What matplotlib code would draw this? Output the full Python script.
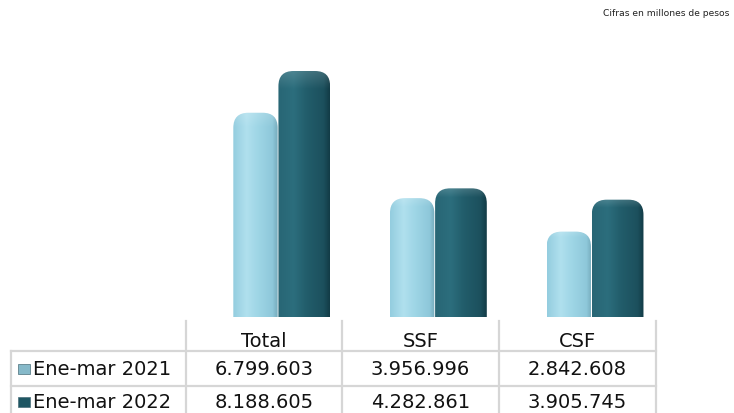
import numpy as np
import matplotlib.pyplot as plt
from matplotlib.patches import FancyBboxPatch, Rectangle
from matplotlib.lines import Line2D
from matplotlib.colors import to_rgb

# -----------------------------
# data
# -----------------------------
categories = ["Total", "SSF", "CSF"]
series_names = ["Ene-mar 2021", "Ene-mar 2022"]
values_2021 = [6799603, 3956996, 2842608]
values_2022 = [8188605, 4282861, 3905745]
note = "Cifras en millones de pesos"

W, H = 734, 414
fig = plt.figure(figsize=(W / 100, H / 100), dpi=100)


def fx(x):
    return x / W


def fy(y):
    return 1 - y / H


# -----------------------------
# bar area (aligned with table columns)
# -----------------------------
col_edges = [186, 342, 499, 656]
base_px, top_px = 318, 40
ax = fig.add_axes([fx(col_edges[0]), fy(base_px),
                   fx(col_edges[-1]) - fx(col_edges[0]), (base_px - top_px) / H])
ymax = 9.254
ax.set_xlim(-0.5, 2.5)
ax.set_ylim(0, ymax)
ax.axis("off")

# data units per pixel, used to keep the rounded corners round
ux = 3.0 / (col_edges[-1] - col_edges[0])
uy = ymax / (base_px - top_px)
aspect = uy / ux
radius_px = 15


def bar_image(colors, stops):
    prof = np.array([to_rgb(c) for c in colors])
    xs = np.linspace(0, 1, 120)
    row = np.stack([np.interp(xs, stops, prof[:, k]) for k in range(3)], axis=-1)
    img = np.repeat(row[None, :, :], 200, axis=0)
    # brighter rounded cap near the top
    fade = np.clip(1 - np.linspace(0, 1, 200) / 0.07, 0, 1)[:, None, None]
    img = img + (1 - img) * 0.15 * fade
    return np.clip(img, 0, 1)


light = bar_image(["#94cddf", "#b0e0ee", "#9fd6e6", "#8ec8da", "#76abbc"],
                  [0, 0.3, 0.55, 0.88, 1])
dark = bar_image(["#286675", "#2c6e7d", "#225d6b", "#1c505d", "#123b46"],
                 [0, 0.3, 0.55, 0.88, 1])

offsets = [(-0.198, 0.283, light), (0.09, 0.33, dark)]
for vals, (off, width, img) in zip([values_2021, values_2022], offsets):
    for i, v in enumerate(vals):
        h = v / 1e6
        x0 = i + off
        y0 = -1.0  # bottom corners hidden below the baseline
        patch = FancyBboxPatch((x0, y0), width, h - y0,
                               boxstyle=f"round,pad=0,rounding_size={radius_px * ux}",
                               mutation_aspect=aspect,
                               facecolor="none", edgecolor="none")
        ax.add_patch(patch)
        im = ax.imshow(img, extent=[x0, x0 + width, 0, h], aspect="auto",
                       interpolation="bilinear", zorder=2)
        im.set_clip_path(patch)

ax.set_xlim(-0.5, 2.5)
ax.set_ylim(0, ymax)

# -----------------------------
# note
# -----------------------------
fig.text(fx(729), fy(14), note, ha="right", va="center", fontsize=6.6, color="#222222")

# -----------------------------
# data table
# -----------------------------
grid = "#d6d6d6"
lw = 1.6
left_px = 11
rows_y = [322, 352, 387, 414]

for x in col_edges:
    fig.add_artist(Line2D([fx(x), fx(x)], [fy(rows_y[0]), fy(rows_y[-1])],
                          color=grid, lw=lw))
fig.add_artist(Line2D([fx(left_px), fx(left_px)], [fy(rows_y[1]), fy(rows_y[-1])],
                      color=grid, lw=lw))
for y in rows_y[1:3]:
    fig.add_artist(Line2D([fx(left_px), fx(col_edges[-1])], [fy(y), fy(y)],
                          color=grid, lw=lw))

centers = [(col_edges[k] + col_edges[k + 1]) / 2 for k in range(3)]
for c, name in zip(centers, categories):
    fig.text(fx(c), fy(342), name, ha="center", va="center", fontsize=14, color="#111111")

row_centers = [370, 403]
marker_cols = ["#86b9c9", "#1e5663"]
for rc, name, vals, mc in zip(row_centers, series_names,
                              [values_2021, values_2022], marker_cols):
    fig.add_artist(Rectangle((fx(18), fy(rc + 5)), fx(12), 10 / H,
                             facecolor=mc, edgecolor="#4a6f7a", lw=0.5))
    fig.text(fx(33), fy(rc), name, ha="left", va="center", fontsize=14, color="#111111")
    for c, v in zip(centers, vals):
        fig.text(fx(c), fy(rc), f"{v:,}".replace(",", "."), ha="center", va="center",
                 fontsize=14, color="#111111")

fig.savefig("out.png", dpi=100)
